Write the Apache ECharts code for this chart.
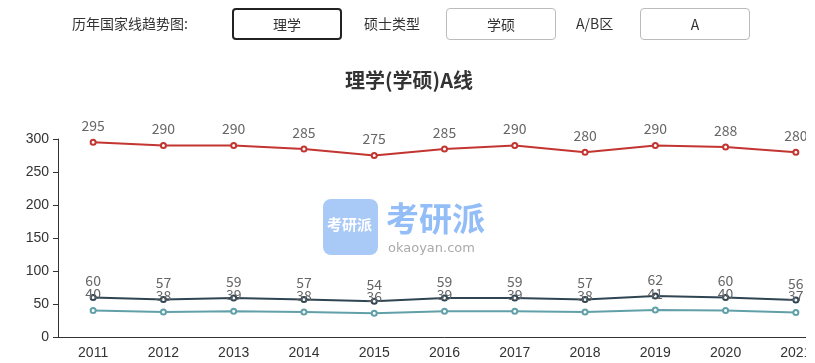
<!DOCTYPE html>
<html><head><meta charset="utf-8">
<script src="https://cdn.jsdelivr.net/npm/echarts@6/dist/echarts.min.js"></script>
<style>
html,body{margin:0;padding:0;width:815px;height:363px;overflow:hidden;background:#fff;font-family:"Noto Sans CJK SC","Noto Sans",sans-serif;}
#wrap{position:absolute;left:0;top:0;width:806px;height:363px;overflow:hidden;}
#chart{position:absolute;left:0;top:0;width:845px;height:363px;}
#bar{position:absolute;left:0;top:0;width:815px;height:50px;z-index:2;font-size:14px;color:#333;}
.lbl{position:absolute;top:14px;line-height:18px;}
.btn{position:absolute;top:8px;height:32px;box-sizing:border-box;border:1px solid #bbb;border-radius:4px;text-align:center;line-height:30px;background:#fff;}
.btn.active{border:2px solid #222;line-height:28px;}
</style></head>
<body>
<div id="wrap"><div id="chart"></div></div>
<div id="bar">
<span class="lbl" style="left:72px">历年国家线趋势图:</span>
<div class="btn active" style="left:232px;width:110px">理学</div>
<span class="lbl" style="left:364px">硕士类型</span>
<div class="btn" style="left:446px;width:110px">学硕</div>
<span class="lbl" style="left:576px">A/B区</span>
<div class="btn" style="left:640px;width:110px">A</div>
</div>
<script>
const years = ['2011','2012','2013','2014','2015','2016','2017','2018','2019','2020','2021'];
const totalScore = [295,290,290,285,275,285,290,280,290,288,280];
const score100 = [60,57,59,57,54,59,59,57,62,60,56];
const score150 = [40,38,39,38,36,39,39,38,41,40,37];
const yTicks = [0,50,100,150,200,250,300];
const titleText = '理学(学硕)A线';

const chart = echarts.init(document.getElementById('chart'));
function mk(name, data, color){
  return {name, type:'line', data, symbol:'emptyCircle', symbolSize:5,
    lineStyle:{width:2,color}, itemStyle:{color},
    label:{show:true,position:'top',distance:6,color:'#666',fontSize:14,fontFamily:'"Noto Sans CJK SC",sans-serif'}};
}
chart.setOption({
  animation:false,
  title:{text:titleText,left:404,textAlign:'center',top:65,textStyle:{fontSize:20,fontWeight:'bold',color:'#333',fontFamily:'"Noto Sans CJK SC",sans-serif'}},
  grid:{left:58,top:139,bottom:26,width:773},
  xAxis:{type:'category',data:years,boundaryGap:true,
    axisLine:{lineStyle:{color:'#333'}},axisTick:{lineStyle:{color:'#333'},length:5},
    axisLabel:{color:'#333',fontSize:14,margin:9}},
  yAxis:{type:'value',min:yTicks[0],max:yTicks[yTicks.length-1],interval:50,
    splitLine:{show:false},axisLine:{show:true,lineStyle:{color:'#333'}},axisTick:{show:true,length:5,lineStyle:{color:'#333'}},
    axisLabel:{color:'#333',fontSize:14,margin:9}},
  graphic:[
    {type:'rect',left:323,top:199,shape:{width:55,height:56,r:8},style:{fill:'#a9c9f7'},z:-1},
    {type:'text',left:327,top:217,style:{text:'考研派',fill:'#fff',font:'bold 15px "Noto Sans CJK SC"'},z:-1},
    {type:'text',left:386,top:202,style:{text:'考研派',fill:'#93bdf6',font:'bold 33px "Noto Sans CJK SC"'},z:-1},
    {type:'text',left:388,top:242,style:{text:'okaoyan.com',fill:'#aaa',font:'13px "DejaVu Sans"'},z:-1}
  ],
  series:[mk('总分',totalScore,'#c23531'),mk('单科100',score100,'#2f4554'),mk('单科150',score150,'#61a0a8')]
});
</script>
</body></html>
